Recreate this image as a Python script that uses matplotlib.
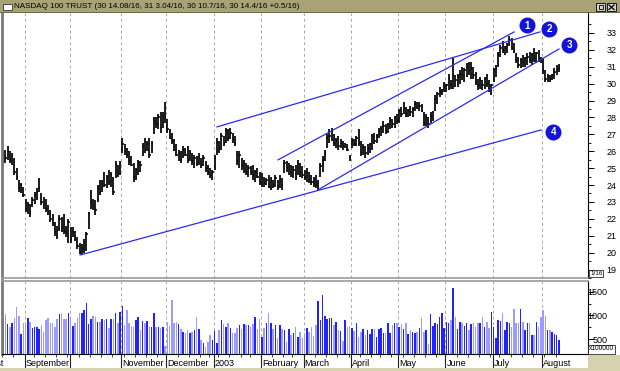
import matplotlib
matplotlib.use("Agg")
import matplotlib.pyplot as plt
from matplotlib.patches import Rectangle
from matplotlib.lines import Line2D
import numpy as np
import pandas as pd

plt.rcParams['font.family'] = ['Liberation Sans', 'DejaVu Sans']

W, H = 620, 371

title = "NASDAQ 100 TRUST (30 14.08/16, 31 3.04/16, 30 10.7/16, 30 14.4/16 +0.5/16)"

# trading sessions shown, Aug 16 2002 .. Aug 12 2003
holidays = ["2002-09-02", "2002-11-28", "2002-12-25", "2003-01-01", "2003-01-20",
            "2003-02-17", "2003-04-18", "2003-05-26", "2003-07-04"]
dates = pd.bdate_range("2002-08-16", "2003-08-12")
dates = dates[~dates.isin(pd.to_datetime(holidays))]

month_labels = ["September", "", "November", "December", "2003", "February",
                "March", "April", "May", "June", "July", "August"]

high = [25.7, 26.0, 26.1, 26.3, 26.0, 25.9, 25.6, 25.0, 24.3, 24.1,
        23.9, 23.2, 23.0, 22.9, 23.3, 23.6, 23.8, 24.4, 23.5, 23.3,
        23.2, 22.8, 22.5, 22.3, 21.8, 21.6, 22.2, 22.1, 22.3, 21.6,
        22.0, 21.5, 21.5, 21.3, 20.9, 20.6, 20.5, 20.8, 21.2, 22.4,
        23.7, 23.2, 23.1, 24.0, 24.3, 24.3, 24.8, 24.6, 24.9, 24.8,
        24.5, 25.4, 25.2, 25.4, 26.8, 26.4, 26.2, 26.0, 25.7, 25.3,
        25.0, 25.5, 25.4, 26.5, 26.8, 26.6, 26.8, 26.6, 28.0, 28.0,
        28.2, 28.3, 28.3, 28.9, 27.9, 27.3, 27.1, 26.7, 26.4, 26.1,
        26.0, 26.3, 26.2, 26.3, 26.1, 25.9, 25.8, 25.7, 25.9, 25.6,
        25.8, 25.4, 25.2, 25.0, 24.9, 25.8, 26.8, 26.6, 27.1, 26.9,
        27.4, 27.3, 27.4, 27.1, 26.9, 26.0, 26.0, 25.6, 25.5, 25.3,
        25.2, 25.1, 25.2, 24.9, 25.0, 24.8, 24.7, 24.5, 24.4, 24.6,
        24.5, 24.3, 24.6, 24.3, 24.6, 24.4, 25.5, 25.4, 25.3, 25.2,
        25.1, 25.2, 25.5, 25.3, 25.1, 24.9, 25.0, 24.8, 24.6, 24.5,
        24.6, 24.3, 25.3, 25.7, 26.1, 27.0, 27.3, 27.4, 27.0, 26.8,
        26.9, 26.7, 26.6, 26.5, 26.4, 25.8, 26.8, 26.7, 26.9, 27.3,
        26.6, 26.4, 26.3, 26.4, 26.5, 27.0, 27.1, 27.0, 27.4, 27.5,
        27.8, 27.6, 27.7, 28.0, 27.9, 28.1, 28.2, 28.5, 28.6, 28.9,
        28.6, 28.5, 28.7, 28.6, 29.0, 28.9, 28.9, 28.8, 28.3, 28.2,
        28.0, 28.3, 28.4, 29.3, 29.5, 29.8, 29.7, 30.1, 30.0, 30.6,
        30.2, 31.55, 30.5, 30.6, 30.8, 31.0, 30.9, 31.2, 31.3, 31.3,
        31.0, 30.7, 30.3, 30.4, 30.2, 30.4, 30.6, 30.2, 30.0, 30.9,
        31.1, 31.9, 32.3, 32.5, 32.2, 32.4, 32.8, 32.7, 32.4, 31.8,
        31.6, 31.5, 31.7, 31.6, 31.8, 31.9, 31.8, 32.1, 31.9, 32.0,
        31.6, 31.5, 30.8, 30.6, 30.5, 30.6, 30.9, 31.1, 31.19]

low = [24.9, 25.1, 25.3, 25.5, 25.3, 25.2, 24.6, 24.3, 23.6, 23.5,
       23.3, 22.4, 22.3, 22.1, 22.7, 22.9, 23.1, 23.6, 22.8, 22.6,
       22.4, 22.2, 21.8, 21.6, 21.0, 20.8, 21.3, 21.2, 21.1, 20.9,
       20.6, 20.6, 20.9, 20.7, 20.2, 19.9, 19.9, 20.0, 20.1, 21.4,
       22.6, 22.5, 22.2, 23.0, 23.4, 23.6, 23.9, 23.8, 24.0, 23.9,
       23.4, 24.4, 24.5, 24.6, 25.9, 25.8, 25.6, 25.2, 25.1, 24.2,
       24.3, 24.6, 24.8, 25.7, 25.9, 26.0, 25.6, 25.9, 27.0, 27.4,
       27.3, 27.1, 27.4, 27.7, 27.1, 26.7, 26.4, 26.0, 25.7, 25.4,
       25.3, 25.6, 25.7, 25.3, 25.4, 25.2, 25.0, 25.1, 25.2, 25.0,
       25.1, 24.8, 24.6, 24.4, 24.3, 24.9, 25.8, 25.9, 26.1, 26.3,
       26.5, 26.6, 26.7, 26.5, 26.3, 25.2, 25.0, 24.9, 24.7, 24.6,
       24.5, 24.6, 24.3, 24.2, 24.4, 24.0, 23.9, 23.9, 24.0, 23.8,
       23.7, 23.8, 23.9, 23.7, 23.8, 23.7, 24.7, 24.8, 24.6, 24.5,
       24.4, 24.3, 24.6, 24.5, 24.4, 24.3, 24.2, 24.1, 24.0, 23.9,
       23.8, 23.65, 24.5, 24.8, 25.4, 26.2, 26.5, 26.6, 26.3, 26.2,
       26.1, 26.2, 26.1, 26.2, 26.0, 25.4, 26.2, 26.3, 26.3, 26.3,
       25.7, 25.8, 25.6, 25.8, 25.9, 26.1, 26.4, 26.5, 26.8, 26.9,
       27.1, 27.0, 27.1, 27.3, 27.4, 27.4, 27.6, 27.7, 28.0, 28.2,
       28.0, 28.0, 28.1, 28.0, 28.4, 28.5, 28.4, 28.3, 27.5, 27.5,
       27.4, 27.7, 27.8, 28.4, 28.8, 29.2, 29.3, 29.5, 29.5, 29.6,
       29.7, 29.7, 29.8, 29.8, 30.0, 30.2, 30.1, 30.4, 30.5, 30.3,
       30.3, 29.9, 29.6, 29.7, 29.6, 29.7, 29.8, 29.5, 29.3, 30.1,
       30.4, 31.0, 31.6, 31.8, 31.7, 31.8, 32.2, 32.0, 31.8, 31.2,
       30.9, 30.9, 31.0, 31.0, 31.1, 31.2, 31.1, 31.3, 31.2, 31.3,
       31.2, 30.6, 30.1, 30.1, 30.1, 30.2, 30.3, 30.5, 30.67]

close = [25.4, 25.8, 25.6, 26.0, 25.5, 25.7, 24.8, 24.5, 23.8, 24.0,
         23.4, 22.6, 22.8, 22.3, 23.1, 23.4, 23.6, 23.8, 23.0, 22.9,
         22.6, 22.4, 22.0, 21.7, 21.2, 21.0, 22.0, 21.5, 21.3, 21.2,
         21.8, 20.8, 21.2, 20.9, 20.4, 20.0, 20.3, 20.6, 21.1, 22.3,
         23.0, 22.8, 22.5, 23.8, 23.6, 24.2, 24.0, 24.5, 24.2, 24.6,
         23.6, 25.2, 24.8, 25.3, 26.4, 26.0, 25.8, 25.4, 25.2, 24.5,
         24.9, 25.3, 25.2, 26.3, 26.1, 26.4, 25.8, 26.4, 27.8, 27.6,
         28.0, 27.4, 28.1, 28.0, 27.3, 26.8, 26.6, 26.1, 25.8, 25.9,
         25.5, 26.1, 25.8, 25.5, 25.9, 25.4, 25.6, 25.3, 25.7, 25.2,
         25.6, 25.0, 24.8, 24.6, 24.8, 25.6, 26.5, 26.2, 26.9, 26.5,
         27.2, 26.8, 27.1, 26.7, 26.5, 25.4, 25.8, 25.1, 25.3, 24.8,
         25.0, 24.8, 24.6, 24.8, 24.5, 24.2, 24.5, 24.1, 24.3, 23.9,
         24.3, 24.0, 24.4, 23.9, 24.3, 24.0, 25.3, 25.0, 25.1, 24.7,
         24.9, 24.5, 25.3, 24.8, 24.6, 24.5, 24.8, 24.3, 24.2, 24.1,
         24.0, 24.1, 25.1, 25.5, 25.9, 26.8, 26.9, 27.2, 26.5, 26.6,
         26.3, 26.5, 26.3, 26.4, 26.1, 25.6, 26.6, 26.4, 26.8, 26.5,
         25.9, 26.2, 25.9, 26.2, 26.4, 26.9, 26.6, 26.9, 27.2, 27.3,
         27.5, 27.2, 27.6, 27.8, 27.6, 28.0, 27.8, 28.4, 28.2, 28.5,
         28.2, 28.4, 28.3, 28.5, 28.8, 28.6, 28.7, 28.4, 27.7, 28.0,
         27.6, 28.1, 28.3, 29.1, 29.4, 29.5, 29.6, 29.8, 29.9, 30.3,
         29.9, 30.5, 30.2, 30.4, 30.6, 30.5, 30.8, 31.0, 30.8, 30.9,
         30.5, 30.1, 29.9, 30.2, 29.9, 30.3, 30.0, 29.7, 29.9, 30.8,
         30.9, 31.7, 32.1, 32.0, 32.1, 32.2, 32.6, 32.1, 31.9, 31.4,
         31.1, 31.4, 31.3, 31.5, 31.6, 31.4, 31.7, 31.5, 31.8, 31.5,
         31.3, 30.8, 30.3, 30.4, 30.3, 30.5, 30.7, 30.8, 30.90]

# volume, x100000
volume = [779, 905, 1031, 821, 765, 849, 940, 1171, 989, 611,
          835, 849, 940, 870, 744, 765, 765, 709, 800, 660,
          905, 940, 835, 849, 765, 926, 1031, 1059, 919, 919,
          1045, 926, 779, 849, 940, 1045, 1059, 1115, 1255, 814,
          926, 996, 975, 870, 870, 919, 905, 919, 730, 919,
          926, 1052, 849, 1080, 1199, 800, 1122, 835, 779, 765,
          905, 975, 695, 884, 835, 891, 765, 765, 1059, 765,
          751, 730, 765, 359, 870, 779, 1325, 835, 870, 821,
          709, 660, 625, 695, 625, 660, 695, 975, 709, 485,
          415, 345, 450, 590, 485, 681, 415, 695, 905, 821,
          765, 849, 730, 625, 639, 730, 800, 709, 821, 800,
          800, 765, 814, 975, 709, 926, 555, 730, 835, 1045,
          835, 709, 800, 520, 800, 709, 695, 450, 709, 590,
          625, 765, 555, 660, 520, 625, 730, 660,
          751, 569, 800, 1311, 905, 1430, 996, 926, 947, 947,
          800, 870, 695, 681, 464, 905, 765, 779, 730, 681,
          849, 555, 660, 709, 590, 695, 611, 709, 709, 555,
          716, 730, 625, 639, 835, 625, 800, 849, 835, 765,
          814, 709, 835, 611, 695, 660, 625, 646, 730, 940,
          660, 695, 401, 1031, 786, 835, 814, 975, 1045, 730,
          870, 849, 905, 1570, 961, 709, 870, 835, 779, 835,
          695, 814, 835, 765, 849, 835, 961, 765, 870, 730,
          1080, 765, 520, 905, 891, 1045, 695, 870, 835, 765,
          1129, 835, 835, 1129, 870, 695, 849, 849, 590, 590,
          870, 765, 975, 1115, 989, 695, 695, 660, 611, 590,
          485]

# trend lines drawn on the chart: (session, price) end points
trend_lines = [
    ((123.2, 25.49), (228.1, 33.06)),
    ((96.05, 27.44), (239.6, 33.06)),
    ((140.9, 23.71), (248.05, 32.05)),
    ((35.2, 19.86), (240.1, 27.26)),
]
line_tags = [("1", 233.7, 33.47), ("2", 243.6, 33.24), ("3", 252.6, 32.29), ("4", 245.5, 27.16)]

x = np.arange(len(dates))
month_idx = [i for i in range(1, len(dates)) if dates[i].month != dates[i - 1].month]
week_idx = [i for i in range(1, len(dates)) if dates[i].weekday() < dates[i - 1].weekday()]

fig = plt.figure(figsize=(W / 100, H / 100), dpi=100)
fig.patch.set_facecolor('white')


def px_axes(left, top, right, bottom):
    return fig.add_axes([left / W, 1 - bottom / H, (right - left) / W, (bottom - top) / H])


def px_rect(left, top, right, bottom, **kw):
    fig.add_artist(Rectangle((left / W, 1 - bottom / H), (right - left) / W, (bottom - top) / H,
                             transform=fig.transFigure, **kw))


XMIN = 0.5
XMAX = XMIN + 586 / 2.25
grid_kw = dict(color='#a8a8a8', lw=0.7, ls=(0, (3, 3)), zorder=0)

# window frame
px_rect(0, 0, 620, 13, facecolor='#a9a275', edgecolor='none')
px_rect(0, 12, 620, 13, facecolor='#6f6a4c', edgecolor='none')
px_rect(0, 368, 620, 371, facecolor='#d6d2ae', edgecolor='none')
px_rect(588, 355, 620, 368, facecolor='#d6d2ae', edgecolor='none')
px_rect(3, 4, 12, 10, facecolor='white', edgecolor='#333333', lw=0.6)
fig.text(14 / W, 1 - 6.8 / H, title, fontsize=5.75, va='center', ha='left', color='black')
px_rect(596, 3, 605, 11, facecolor='#d4d0c8', edgecolor='black', lw=0.6)
px_rect(598.5, 5, 602.5, 9, facecolor='none', edgecolor='black', lw=0.6)
px_rect(607, 3, 616, 11, facecolor='#d4d0c8', edgecolor='black', lw=0.6)
fig.add_artist(Line2D([609 / W, 614 / W], [1 - 5 / H, 1 - 9.5 / H], color='black', lw=0.9,
                      transform=fig.transFigure))
fig.add_artist(Line2D([609 / W, 614 / W], [1 - 9.5 / H, 1 - 5 / H], color='black', lw=0.9,
                      transform=fig.transFigure))

# price panel
ax = px_axes(2, 13, 588, 278)
ax.set_xlim(XMIN, XMAX)
ax.set_ylim(18.5, 34.18)
for m in month_idx:
    ax.axvline(m - 0.5, **grid_kw)
ax.vlines(x, low, high, color='black', lw=1.25)
ax.hlines(close, x, x + 0.55, color='black', lw=1.1)
for (x0, y0), (x1, y1) in trend_lines:
    ax.plot([x0, x1], [y0, y1], color='#2b2bef', lw=0.9)
for tag, tx, ty in line_tags:
    ax.plot(tx, ty, 'o', ms=10.5, color='#1212d8', clip_on=False, zorder=5)
    ax.text(tx, ty - 0.03, tag, color='white', fontsize=7, fontweight='bold',
            ha='center', va='center', zorder=6)

ax.set_xticks([])
ax.yaxis.tick_right()
ax.set_yticks(range(19, 34))
ax.set_yticks(np.arange(18.5, 34.0, 0.5), minor=True)
ax.tick_params(axis='y', which='major', direction='out', length=4, width=0.7,
               labelsize=6.5, pad=16.5, colors='black')
ax.tick_params(axis='y', which='minor', direction='out', length=2, width=0.6)
plt.setp(ax.yaxis.get_majorticklabels(), ha='right')
ax.spines['top'].set_visible(False)
ax.spines['left'].set_color('#7a7a7a')
ax.spines['left'].set_linewidth(2)
ax.spines['bottom'].set_color('#9a9a9a')
ax.spines['bottom'].set_linewidth(1.2)
ax.spines['right'].set_color('black')
ax.spines['right'].set_linewidth(0.8)
ax.text(1.0 + 2 / 586, 0.0 + 4.5 / 265, "1/16", transform=ax.transAxes, fontsize=4.5,
        ha='left', va='center', clip_on=False,
        bbox=dict(boxstyle='square,pad=0.15', facecolor='white', edgecolor='black', lw=0.5))

# volume panel
av = px_axes(2, 281, 588, 354)
av.set_xlim(XMIN, XMAX)
av.set_ylim(191, 1724)
for m in month_idx:
    av.axvline(m - 0.5, **grid_kw)
prev = np.r_[close[0], close[:-1]]
vol_colors = ['#2222ff' if c >= p else '#9c9cff' for c, p in zip(close, prev)]
av.bar(x, volume, width=0.7, color=vol_colors, linewidth=0)
av.yaxis.tick_right()
av.set_yticks([500, 1000, 1500])
av.set_yticks(range(250, 1750, 250), minor=True)
av.tick_params(axis='y', which='major', direction='out', length=4, width=0.7,
               labelsize=6.5, pad=10, colors='black')
av.tick_params(axis='y', which='minor', direction='out', length=2, width=0.6)
plt.setp(av.yaxis.get_majorticklabels(), ha='right')
av.set_xticks([m - 0.5 for m in month_idx])
av.set_xticks([w - 0.5 for w in week_idx], minor=True)
av.tick_params(axis='x', which='major', direction='out', length=10.5, width=0.8,
               labelbottom=False, colors='#222222')
av.tick_params(axis='x', which='minor', direction='out', length=2.5, width=0.6,
               colors='#222222')
av.spines['top'].set_color('#9a9a9a')
av.spines['top'].set_linewidth(1.2)
av.spines['left'].set_color('#7a7a7a')
av.spines['left'].set_linewidth(2)
av.spines['right'].set_linewidth(0.8)
av.spines['bottom'].set_linewidth(0.8)
av.text(1.0 + 1 / 586, 1 - 68 / 73, "x100000", transform=av.transAxes, fontsize=4.8,
        ha='left', va='center', clip_on=False,
        bbox=dict(boxstyle='square,pad=0.15', facecolor='white', edgecolor='black', lw=0.5))

# month names under the volume bars; the first one runs off the left edge as in the source
xt = av.get_xaxis_transform()
label_y = -9.0 / 73
av.text(-11 - 0.5 + 0.5, label_y, "August", transform=xt, fontsize=6.5,
        ha='left', va='center', clip_on=False)
for m, lab in zip(month_idx, month_labels):
    if lab:
        av.text(m - 0.5 + 0.5, label_y, lab, transform=xt, fontsize=6.5,
                ha='left', va='center', clip_on=False)

fig.savefig("out.png", dpi=100)
